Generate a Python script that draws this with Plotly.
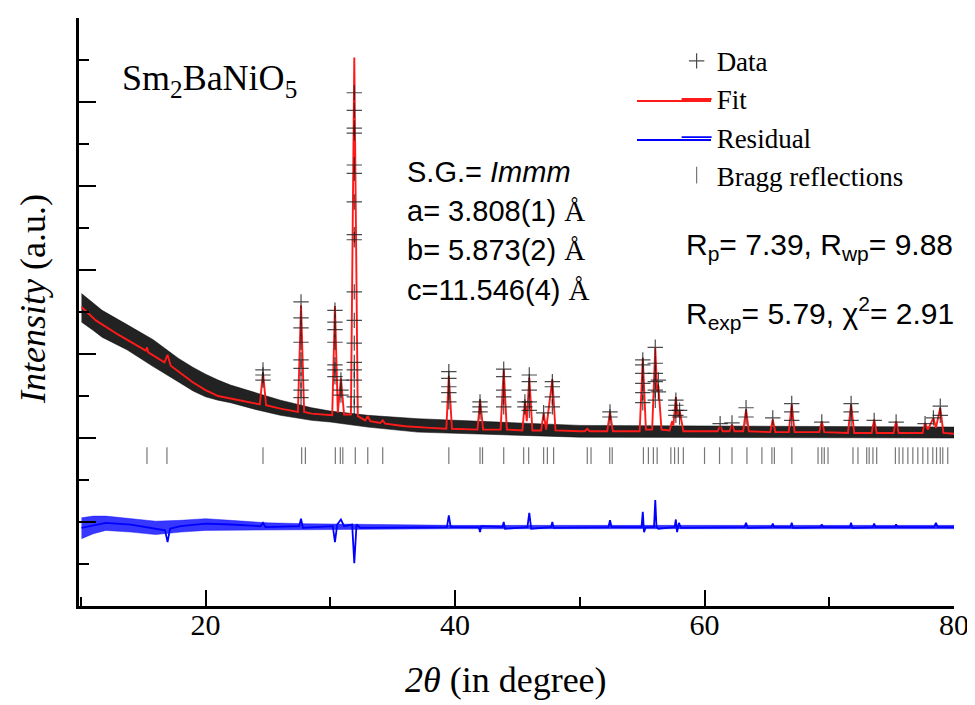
import plotly.graph_objects as go

# ---- datos (unidades de intensidad arbitrarias) ----
# curva calculada (Fit)
fit_x = [10.05, 11.2, 13.0, 15.0, 15.2, 15.3, 15.4, 16.7, 16.95, 17.2, 18.0, 19.0, 20.0, 21.0, 23.0,
         24.35, 24.6, 24.85, 26.0, 27.4, 27.65, 27.9, 28.5, 30.0, 30.15, 30.37, 30.6, 30.85, 31.1,
         31.65, 31.92, 32.2, 32.8, 33.0, 33.2, 34.0, 34.2, 34.4, 36.0, 38.0,
         39.3, 39.5, 39.75, 41.8, 42.0, 42.25, 43.65, 43.9, 44.15,
         45.4, 45.6, 45.75, 45.95, 46.2, 46.9, 47.1, 47.3, 47.8, 48.05,
         50.0, 50.4, 50.6, 50.8, 52.2, 52.42, 52.65,
         54.8, 55.05, 55.3, 55.8, 56.05, 56.2, 56.3, 56.55,
         57.2, 57.4, 57.5, 57.7, 57.85, 58.0, 58.3, 60.0,
         61.05, 61.25, 61.45, 62.0, 62.2, 62.4, 63.1, 63.33, 63.55,
         65.27, 65.47, 65.67, 66.75, 66.99, 67.22, 69.2, 69.4, 69.6,
         71.5, 71.75, 72.0, 73.4, 73.6, 73.8, 75.16, 75.36, 75.56,
         77.48, 77.68, 77.9, 78.35, 78.55, 78.9, 79.15, 80.0]
fit_y = [3.56, 3.40, 3.23, 3.06, 3.04, 3.08, 3.02, 2.90, 2.99, 2.86, 2.77, 2.66, 2.57, 2.50, 2.44,
         2.40, 2.78, 2.39, 2.35, 2.31, 3.58, 2.31, 2.29, 2.27, 2.27, 3.57, 2.30, 2.71, 2.28,
         2.28, 6.53, 2.26, 2.21, 2.26, 2.20, 2.18, 2.21, 2.17, 2.14, 2.12,
         2.11, 2.74, 2.11, 2.10, 2.46, 2.10, 2.10, 2.82, 2.10,
         2.09, 2.44, 2.20, 2.72, 2.09, 2.09, 2.30, 2.10, 2.70, 2.09,
         2.08, 2.08, 2.11, 2.08, 2.08, 2.31, 2.08,
         2.08, 2.95, 2.10, 2.10, 3.07, 2.55, 2.62, 2.10,
         2.09, 2.20, 2.15, 2.49, 2.25, 2.33, 2.08, 2.08,
         2.08, 2.14, 2.08, 2.08, 2.16, 2.08, 2.08, 2.34, 2.08,
         2.07, 2.22, 2.07, 2.07, 2.40, 2.07, 2.07, 2.20, 2.07,
         2.06, 2.40, 2.06, 2.06, 2.22, 2.06, 2.06, 2.20, 2.06,
         2.06, 2.18, 2.10, 2.24, 2.12, 2.36, 2.06, 2.05]

# banda de ruido de los datos medidos (borde superior / inferior)
band_x = [10.05, 11.0, 11.7, 13.7, 15.8, 17.8, 19.0, 20.0, 21.0, 22.0, 24.0, 26.0, 28.5, 30.0, 33.0,
          35.0, 37.0, 45.0, 50.0, 80.0]
band_hi = [3.72, 3.60, 3.52, 3.35, 3.17, 2.95, 2.84, 2.76, 2.69, 2.63, 2.54, 2.45, 2.36, 2.32, 2.27,
           2.25, 2.23, 2.18, 2.15, 2.13]
band_lo = [3.38, 3.28, 3.20, 3.05, 2.85, 2.67, 2.56, 2.49, 2.45, 2.42, 2.34, 2.27, 2.21, 2.19, 2.13,
           2.10, 2.07, 2.03, 2.01, 2.00]

# puntos medidos visibles sobre los picos
pico_pos = [24.6, 27.65, 30.37, 30.85, 31.92, 39.5, 42.0, 43.9, 45.6, 45.95, 47.1, 47.8, 52.42,
            55.05, 56.05, 56.3, 57.7, 58.0, 61.25, 62.2, 63.33, 65.47, 66.99, 69.4, 71.75,
            73.6, 75.36, 77.68, 78.35, 78.9]
pico_datos = [[2.81, 2.75, 2.69],
              [3.62, 3.43, 3.31, 3.14, 2.93, 2.83, 2.69, 2.57, 2.48],
              [3.52, 3.38, 3.29, 3.14, 2.87, 2.81, 2.73],
              [2.69, 2.57, 2.51],
              [6.11, 5.90, 5.69, 5.63, 5.25, 5.15, 4.81, 4.42, 4.36, 3.74, 3.40, 3.13, 2.90, 2.81, 2.69, 2.49, 2.37],
              [2.79, 2.71, 2.61, 2.54, 2.43],
              [2.43, 2.37, 2.31],
              [2.82, 2.73, 2.57, 2.49, 2.37],
              [2.43, 2.37],
              [2.75, 2.67, 2.57, 2.43, 2.33],
              [2.30],
              [2.67, 2.61, 2.49, 2.37],
              [2.31, 2.25],
              [2.93, 2.87, 2.77, 2.65, 2.54, 2.42],
              [3.08, 2.89, 2.77, 2.67, 2.57, 2.45],
              [2.69, 2.55],
              [2.45, 2.39, 2.33, 2.27],
              [2.33, 2.25],
              [2.17], [2.18], [2.36, 2.25], [2.24], [2.41, 2.31, 2.21], [2.19],
              [2.41, 2.31, 2.21], [2.21], [2.19], [2.17], [2.24], [2.38, 2.27]]

# diferencia (Residual)
res_x = [10.05, 12.0, 14.0, 16.0, 16.75, 16.95, 17.15, 18.0, 20.0, 22.0, 24.4, 24.6, 24.8,
         27.5, 27.65, 27.8, 30.2, 30.37, 30.55, 30.85, 31.1, 31.75, 31.92, 32.1, 32.4,
         39.35, 39.5, 39.65, 41.9, 42.0, 42.1, 43.8, 43.9, 44.0, 45.8, 45.95, 46.1,
         47.7, 47.8, 47.9, 52.3, 52.42, 52.55, 54.95, 55.05, 55.15, 55.3, 55.95, 56.05, 56.15, 56.3,
         57.6, 57.7, 57.8, 57.95, 58.1, 63.2, 63.33, 63.45, 65.37, 65.47, 65.57, 66.9, 66.99, 67.1,
         69.3, 69.4, 69.5, 71.65, 71.75, 71.85, 73.5, 73.6, 73.7, 75.26, 75.36, 75.46,
         78.4, 78.55, 78.7, 80.0]
res_y = [0.93, 0.99, 0.97, 0.92, 0.90, 0.76, 0.92, 0.95, 0.98, 0.97, 0.95, 0.99, 0.94,
         0.95, 1.04, 0.93, 0.95, 0.76, 0.97, 1.03, 0.95, 0.97, 0.51, 0.97, 0.93,
         0.94, 1.08, 0.94, 0.94, 0.88, 0.95, 0.94, 1.00, 0.92, 0.94, 1.11, 0.92,
         0.94, 1.00, 0.93, 0.94, 1.02, 0.94, 0.94, 1.12, 0.88, 0.94, 0.94, 1.26, 0.94, 0.92,
         0.94, 1.03, 0.88, 0.99, 0.93, 0.94, 0.99, 0.93, 0.94, 0.98, 0.94, 0.94, 0.99, 0.93,
         0.94, 0.97, 0.94, 0.94, 0.99, 0.93, 0.94, 0.98, 0.94, 0.94, 0.97, 0.94,
         0.94, 0.99, 0.94, 0.94]
resband_x = [10.05, 11.0, 12.0, 14.0, 16.0, 18.0, 20.0, 22.0, 25.0, 28.0, 33.0, 40.0, 80.0]
resband_hi = [1.05, 1.07, 1.07, 1.04, 1.01, 1.02, 1.04, 1.02, 0.99, 0.98, 0.97, 0.96, 0.96]
resband_lo = [0.80, 0.86, 0.90, 0.88, 0.85, 0.88, 0.90, 0.90, 0.90, 0.91, 0.91, 0.92, 0.92]

# posiciones de Bragg
bragg_pos = [15.3, 16.9, 24.6, 27.7, 28.0, 30.4, 30.8, 31.0, 32.0, 33.0, 34.2, 39.5, 42.0, 42.2,
             43.9, 45.5, 45.9, 47.1, 47.4, 47.9, 50.6, 50.9, 52.4, 52.6, 55.1, 55.5, 55.9, 56.2,
             57.3, 57.6, 57.9, 58.3, 60.0, 61.2, 62.2, 63.4, 64.6, 65.4, 65.6, 67.0,
             69.1, 69.4, 69.6, 69.9, 71.9, 72.3, 73.0, 73.2, 73.5, 73.8, 75.3, 75.6,
             75.9, 76.3, 76.7, 77.1, 77.5, 77.9, 78.3, 78.6, 78.9, 79.1, 79.5]
bragg_nivel = 1.79

# ---- figura ----
cross_x = [p for p, hs in zip(pico_pos, pico_datos) for _ in hs]
cross_y = [h for hs in pico_datos for h in hs]

rojo = '#ff1a1a'
azul = '#0000ff'

fig = go.Figure()

fig.add_trace(go.Scatter(
    x=band_x + band_x[::-1], y=band_hi + band_lo[::-1],
    fill='toself', fillcolor='rgba(10,10,10,0.9)', line=dict(width=1, color='rgba(0,0,0,0.5)'),
    mode='lines', showlegend=False, hoverinfo='skip', name='Data'))

fig.add_trace(go.Scatter(
    x=fit_x, y=fit_y, mode='lines', name='Fit', legendrank=2,
    line=dict(color=rojo, width=1.9)))

fig.add_trace(go.Scatter(
    x=cross_x, y=cross_y, mode='markers', name='Data', legendrank=1,
    marker=dict(symbol='cross-thin', size=11, color='rgba(30,30,30,0.8)',
                line=dict(color='rgba(30,30,30,0.8)', width=1.2))))

fig.add_trace(go.Scatter(
    x=resband_x + resband_x[::-1], y=resband_hi + resband_lo[::-1],
    fill='toself', fillcolor='rgba(20,20,255,0.85)', line=dict(width=1, color='rgba(0,0,255,0.4)'),
    mode='lines', showlegend=False, hoverinfo='skip'))

fig.add_trace(go.Scatter(
    x=res_x, y=res_y, mode='lines', name='Residual', legendrank=3,
    line=dict(color=azul, width=1.8)))

fig.add_trace(go.Scatter(
    x=bragg_pos, y=[bragg_nivel] * len(bragg_pos), mode='markers', name='Bragg reflections', legendrank=4,
    marker=dict(symbol='line-ns', size=12, color='#777777', line=dict(color='#777777', width=1.2))))

serif = 'Liberation Serif'
sans = 'Liberation Sans'
aa = '<span style="font-family:Liberation Serif">Å</span>'

# la pagina deja 8 px de margen al body: la figura se reduce para que el area quede igual
OFF = 8
fig.update_layout(
    width=975 - OFF, height=705 - OFF,
    margin=dict(l=79 - OFF, r=21, t=18 - OFF, b=99),
    plot_bgcolor='white', paper_bgcolor='white',
    font=dict(family=serif, color='black'),
    legend=dict(x=0.683, y=0.968, xanchor='left', yanchor='top', bgcolor='rgba(0,0,0,0)',
                font=dict(family=serif, size=27), tracegroupgap=0, itemwidth=30),
    xaxis=dict(range=[9.85, 80], automargin=False, showgrid=False, zeroline=False, showline=True,
               linecolor='black', linewidth=2.5, ticks='inside', ticklen=16, tickwidth=2,
               tickcolor='black', tick0=0, dtick=20, tickfont=dict(family=serif, size=30),
               ticklabelstandoff=-10,
               minor=dict(ticks='inside', dtick=10, ticklen=9, tickwidth=2, tickcolor='black')),
    yaxis=dict(range=[0, 7], automargin=False, showgrid=False, zeroline=False, showline=True,
               linecolor='black', linewidth=2.5, ticks='inside', ticklen=17, tickwidth=2,
               tickcolor='black', dtick=1, showticklabels=False,
               minor=dict(ticks='inside', dtick=0.5, ticklen=10, tickwidth=2, tickcolor='black')),
)

# prolongar hacia la izquierda las lineas de la leyenda (Fit, Residual), como en el original
for col, yy in [(rojo, 101), (azul, 140)]:
    fig.add_shape(type='line', xref='paper', yref='paper',
                  x0=(637 - 79) / 875, x1=(711 - 79) / 875,
                  y0=(606 - yy) / 588, y1=(606 - yy) / 588,
                  line=dict(color=col, width=1.8))

anots = [
    dict(text='Sm<sub>2</sub>BaNiO<sub>5</sub>', x=120, y=80, font=dict(family=serif, size=36)),
    dict(text='S.G.= <i>Immm</i>', x=405, y=172, font=dict(family=sans, size=29)),
    dict(text='a= 3.808(1) ' + aa, x=405, y=211, font=dict(family=sans, size=29)),
    dict(text='b= 5.873(2) ' + aa, x=405, y=250, font=dict(family=sans, size=29)),
    dict(text='c=11.546(4) ' + aa, x=405, y=290, font=dict(family=sans, size=29)),
    dict(text='R<sub>p</sub>= 7.39, R<sub>wp</sub>= 9.88', x=684, y=246, font=dict(family=sans, size=30)),
    dict(text='R<sub>exp</sub>= 5.79, χ<sup>2</sup>= 2.91', x=684, y=313, font=dict(family=sans, size=30)),
]
for a in anots:
    fig.add_annotation(text=a['text'], xref='paper', yref='paper',
                       x=(a['x'] - 79) / 875, y=(606 - a['y']) / 588,
                       xanchor='left', yanchor='middle', showarrow=False, font=a['font'])

# titulos de los ejes
fig.add_annotation(text='<i>2θ</i> (in degree)', xref='paper', yref='paper',
                   x=(506 - 79) / 875, y=(606 - 680) / 588, xanchor='center', yanchor='middle',
                   showarrow=False, font=dict(family=serif, size=36))
fig.add_annotation(text='<i>Intensity</i> (a.u.)', xref='paper', yref='paper',
                   x=(33 - 79) / 875, y=(606 - 299) / 588, xanchor='center', yanchor='middle',
                   textangle=-90, showarrow=False, font=dict(family=serif, size=36))

fig.write_html("out.html")
